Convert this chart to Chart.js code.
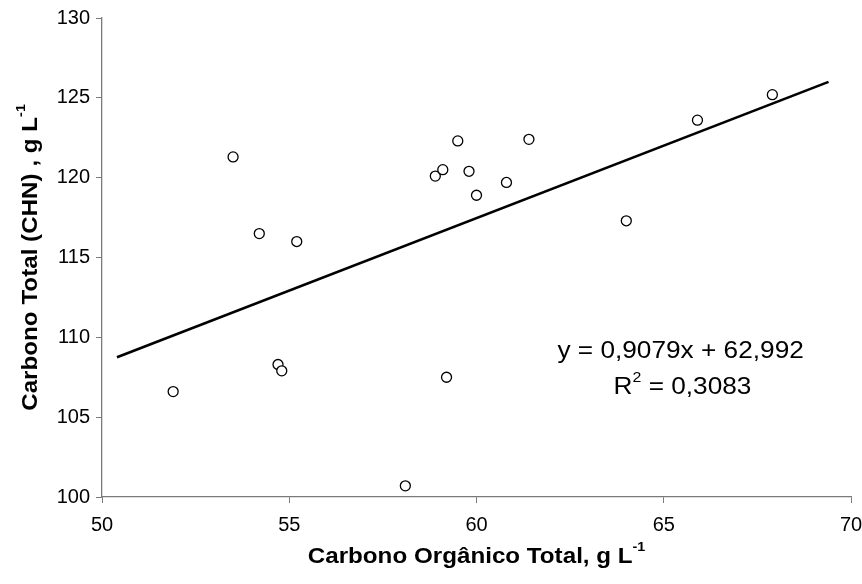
<!DOCTYPE html>
<html>
<head>
<meta charset="utf-8">
<script src="https://cdn.jsdelivr.net/npm/chart.js@4/dist/chart.umd.min.js"></script>
<style>
  html, body { margin: 0; padding: 0; background: #fff; }
  #wrap { width: 862px; height: 584px; }
</style>
</head>
<body>
<div id="wrap"><canvas id="chart" width="862" height="584"></canvas></div>
<script>
// carbono organico total (x) vs carbono total CHN (y), g/L
const cotValues = [51.9, 53.5, 54.2, 54.7, 54.8, 55.2, 58.1, 58.9, 59.1, 59.2, 59.5, 59.8, 60.0, 60.8, 61.4, 64.0, 65.9, 67.9];
const chnValues = [106.6, 121.3, 116.5, 108.3, 107.9, 116.0, 100.7, 120.1, 120.5, 107.5, 122.3, 120.4, 118.9, 119.7, 122.4, 117.3, 123.6, 125.2];

// linear trend line end points (as drawn in the figure)
const trendX = [50.4, 69.4];
const trendY = [108.75, 126.0];

const xTicks = [50, 55, 60, 65, 70];
const yTicks = [100, 105, 110, 115, 120, 125, 130];

const eqLine1 = 'y = 0,9079x + 62,992';
const eqLine2 = ['R', '2', ' = 0,3083'];
const xTitle = ['Carbono Orgânico Total, g L', '-1'];
const yTitle = ['Carbono Total (CHN) , g L', '-1'];

const FONT = "'Liberation Sans', Arial, sans-serif";
const AXIS = '#7a7a7a';

// draws text pieces (odd pieces as superscript) centered at cx, cy
function drawRich(ctx, parts, cx, cy, size, weight, sx) {
  const supSize = Math.round(size * 0.6);
  let total = 0;
  const widths = parts.map((p, i) => {
    ctx.font = weight + ' ' + (i % 2 ? supSize : size) + 'px ' + FONT;
    const w = ctx.measureText(p).width;
    total += w;
    return w;
  });
  ctx.save();
  ctx.translate(cx, cy);
  ctx.scale(sx, 1);
  let x = -total / 2;
  ctx.fillStyle = '#000';
  ctx.textBaseline = 'middle';
  ctx.textAlign = 'left';
  parts.forEach((p, i) => {
    ctx.font = weight + ' ' + (i % 2 ? supSize : size) + 'px ' + FONT;
    ctx.fillText(p, x, i % 2 ? -size * 0.42 : 0);
    x += widths[i];
  });
  ctx.restore();
}

const textPlugin = {
  id: 'texts',
  afterDraw(chart) {
    const ctx = chart.ctx;
    const a = chart.chartArea;
    const xs = chart.scales.x, ys = chart.scales.y;
    // axis titles
    drawRich(ctx, xTitle, (a.left + a.right) / 2, 557, 22, 'bold', 1.1);
    ctx.save();
    ctx.translate(31, (a.top + a.bottom) / 2);
    ctx.rotate(-Math.PI / 2);
    drawRich(ctx, yTitle, 0, 0, 22, 'bold', 1.1);
    ctx.restore();
    // regression equation
    drawRich(ctx, [eqLine1], xs.getPixelForValue(65.45), ys.getPixelForValue(109.1), 23, 'normal', 1.14);
    drawRich(ctx, eqLine2, xs.getPixelForValue(65.5), ys.getPixelForValue(106.85), 23, 'normal', 1.14);
  }
};

new Chart(document.getElementById('chart'), {
  type: 'scatter',
  data: {
    datasets: [
      {
        label: 'dados',
        data: cotValues.map((x, i) => ({ x: x, y: chnValues[i] })),
        pointStyle: 'circle',
        pointRadius: 5,
        pointBackgroundColor: '#fff',
        pointBorderColor: '#000',
        pointBorderWidth: 1.3,
        order: 0
      },
      {
        label: 'tendencia',
        type: 'line',
        data: trendX.map((x, i) => ({ x: x, y: trendY[i] })),
        borderColor: '#000',
        borderWidth: 2.6,
        pointRadius: 0,
        fill: false,
        order: 1
      }
    ]
  },
  options: {
    responsive: false,
    animation: false,
    devicePixelRatio: 1,
    layout: { padding: { top: 18, right: 0, left: 0, bottom: 0 } },
    plugins: { legend: { display: false }, tooltip: { enabled: false } },
    scales: {
      x: {
        type: 'linear',
        min: 50, max: 70,
        afterBuildTicks: (s) => { s.ticks = xTicks.map(v => ({ value: v })); },
        afterFit: (s) => { s.height = 87; s.paddingRight = 11; s.paddingLeft = 0; },
        grid: { drawOnChartArea: false, drawTicks: true, tickLength: 6, color: AXIS },
        border: { color: AXIS, width: 1.3 },
        ticks: { color: '#000', padding: 10, maxRotation: 0, font: { family: FONT, size: 20 } }
      },
      y: {
        type: 'linear',
        min: 100, max: 130,
        afterBuildTicks: (s) => { s.ticks = yTicks.map(v => ({ value: v })); },
        afterFit: (s) => { s.width = 102; },
        grid: { drawOnChartArea: false, drawTicks: true, tickLength: 6, color: AXIS },
        border: { color: AXIS, width: 1.3 },
        ticks: { color: '#000', padding: 6, font: { family: FONT, size: 20 } }
      }
    }
  },
  plugins: [textPlugin]
});
</script>
</body>
</html>
